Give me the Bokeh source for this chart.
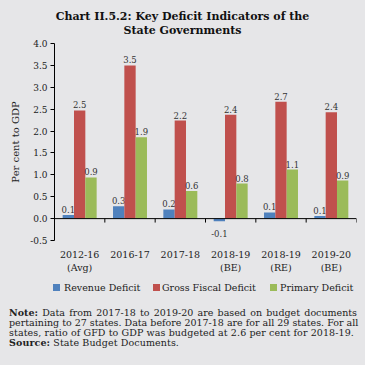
import numpy as np
from bokeh.plotting import figure
from bokeh.layouts import column
from bokeh.models import (ColumnDataSource, Span, Div, FixedTicker, NumeralTickFormatter)
from bokeh.core.properties import value
from bokeh.embed import file_html
from bokeh.resources import INLINE

# ---------------- data ----------------
periods = ["2012-16\n(Avg)", "2016-17", "2017-18", "2018-19\n(BE)", "2018-19\n(RE)", "2019-20\n(BE)"]
revenue_deficit = [0.08, 0.28, 0.21, -0.06, 0.14, 0.06]
gross_fiscal_deficit = [2.47, 3.50, 2.24, 2.37, 2.67, 2.43]
primary_deficit = [0.94, 1.86, 0.63, 0.80, 1.12, 0.87]
series_names = ["Revenue Deficit", "Gross Fiscal Deficit", "Primary Deficit"]
y_tick_values = [-0.5, 0.0, 0.5, 1.0, 1.5, 2.0, 2.5, 3.0, 3.5, 4.0]

title_lines = ["Chart II.5.2: Key Deficit Indicators of the", "State Governments"]
note_lines = [
    "Data from 2017-18 to 2019-20 are based on budget documents",
    "pertaining to 27 states. Data before 2017-18 are for all 29 states. For all",
    "states, ratio of GFD to GDP was budgeted at 2.6 per cent for 2018-19.",
]
source_text = "State Budget Documents."

# ---------------- style ----------------
BG = "#e6e6e8"
colors = ["#4F81BD", "#C0504D", "#9BBB59"]
FONT = "DejaVu Serif"
TXT = "#222222"
W = 365

# ---------------- title ----------------
title_html = (
    f'<div style="width:{W}px;height:38px;box-sizing:border-box;padding-top:10px;'
    f'background:{BG};text-align:center;font-family:\'{FONT}\';font-weight:bold;'
    f'font-size:11px;line-height:14px;color:#111;overflow:hidden;">'
    + "<br>".join(title_lines) + "</div>"
)
title_div = Div(text=title_html, width=W, height=38, sizing_mode="fixed",
                styles={"background-color": BG, "margin": "0"})

# ---------------- chart ----------------
p = figure(width=W, height=239, x_range=(0, 6), y_range=(-0.5, 4.0),
           min_border_left=54, min_border_right=9, min_border_top=5, min_border_bottom=37,
           background_fill_color=BG, border_fill_color=BG, outline_line_color=None,
           output_backend="svg", toolbar_location=None, sizing_mode="fixed")
p.grid.visible = False

centers = [i + 0.5 for i in range(len(periods))]
bar_w = 0.225
offsets = [-bar_w, 0.0, bar_w]

for vals, col, off in zip([revenue_deficit, gross_fiscal_deficit, primary_deficit], colors, offsets):
    src = ColumnDataSource(dict(
        x=[c + off for c in centers],
        top=vals,
        label=[f"{v:.1f}" for v in vals],
        base=["bottom" if v >= 0 else "top" for v in vals],
        yoff=[-2 if v >= 0 else 9 for v in vals],
    ))
    p.vbar(x="x", top="top", bottom=0, width=bar_w, fill_color=col, line_color=None, source=src)
    p.text(x="x", y="top", text="label", source=src, text_align="center",
           text_baseline="base", y_offset="yoff", text_font=value(FONT),
           text_font_size=value("8.5px"), text_color="#333333")

# zero line and category boundary ticks
p.add_layout(Span(location=0, dimension="width", line_color="black", line_width=1))
bounds = list(range(len(periods) + 1))
p.segment(x0=bounds, y0=[0] * len(bounds), x1=bounds, y1=[-0.09] * len(bounds),
          line_color="black", line_width=1)

# x axis (labels only)
xa = p.xaxis[0]
xa.ticker = FixedTicker(ticks=centers, minor_ticks=[])
xa.major_label_overrides = {c: lab for c, lab in zip(centers, periods)}
xa.axis_line_color = None
xa.major_tick_line_color = None
xa.minor_tick_line_color = None
xa.major_tick_out = 0
xa.major_label_standoff = 8
xa.major_label_text_font = FONT
xa.major_label_text_font_size = "9.5px"
xa.major_label_text_color = TXT

# y axis
ya = p.yaxis[0]
ya.ticker = FixedTicker(ticks=y_tick_values, minor_ticks=[])
ya.formatter = NumeralTickFormatter(format="0.0")
ya.axis_line_color = "black"
ya.major_tick_line_color = "black"
ya.major_tick_out = 4
ya.major_tick_in = 0
ya.minor_tick_line_color = None
ya.major_label_standoff = 3
ya.major_label_text_font = FONT
ya.major_label_text_font_size = "9px"
ya.major_label_text_color = TXT
ya.axis_label = "Per cent to GDP"
ya.axis_label_text_font = FONT
ya.axis_label_text_font_style = "normal"
ya.axis_label_text_font_size = "10px"
ya.axis_label_text_color = TXT
ya.axis_label_standoff = 6

# ---------------- legend row ----------------
sq_left = [53, 153, 270]
txt_left = [64, 162, 280]
font_css = f"font-family:'{FONT}';font-size:9.5px;line-height:10px;color:{TXT};"
items = "".join(
    f'<span style="position:absolute;left:{sl}px;top:7px;width:7px;height:7px;background:{c};"></span>'
    f'<span style="position:absolute;left:{tl}px;top:6px;white-space:nowrap;{font_css}">{n}</span>'
    for sl, tl, c, n in zip(sq_left, txt_left, colors, series_names)
)
legend_html = (
    f'<div style="position:relative;width:{W}px;height:22px;background:{BG};{font_css}">{items}</div>'
)
legend_div = Div(text=legend_html, width=W, height=22, sizing_mode="fixed",
                 styles={"background-color": BG, "margin": "0"})

# ---------------- note ----------------
just = "text-align:justify;text-align-last:justify;white-space:nowrap;"
plain = "text-align:left;white-space:nowrap;letter-spacing:0.1px;"
notes_html = (
    f'<div style="width:{W}px;height:66px;box-sizing:border-box;padding:9px 8px 0 9px;'
    f'background:{BG};font-family:\'{FONT}\';font-size:9.5px;line-height:10px;color:{TXT};overflow:hidden;">'
    f'<div style="{just}"><b>Note:</b> {note_lines[0]}</div>'
    f'<div style="{just}">{note_lines[1]}</div>'
    f'<div style="{plain}">{note_lines[2]}</div>'
    f'<div style="{plain}"><b>Source:</b> {source_text}</div>'
    "</div>"
)
notes_div = Div(text=notes_html, width=W, height=66, sizing_mode="fixed",
                styles={"background-color": BG, "margin": "0"})

layout = column(title_div, p, legend_div, notes_div, spacing=0, sizing_mode="fixed",
                styles={"background-color": BG})

open("out.html", "w").write(file_html(layout, INLINE))
